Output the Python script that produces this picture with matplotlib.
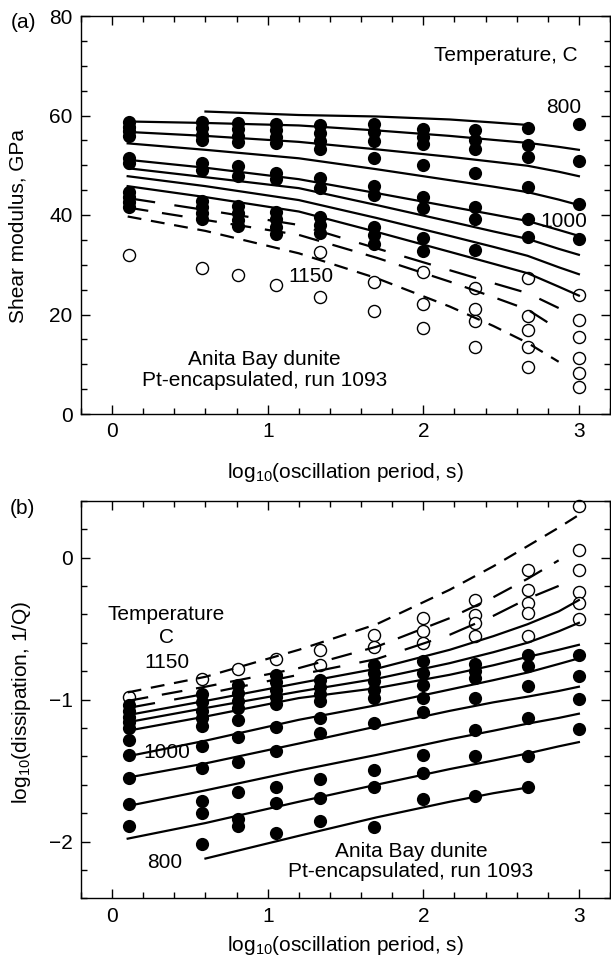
import numpy as np
import matplotlib.pyplot as plt
from matplotlib.ticker import MultipleLocator

plt.rcParams['font.family'] = ['Liberation Sans', 'DejaVu Sans']
plt.rcParams['font.size'] = 15
plt.rcParams['mathtext.default'] = 'regular'
plt.rcParams['lines.scale_dashes'] = False

# log10 of the forced-oscillation periods (s)
LOGP = [0.107, 0.58, 0.806, 1.053, 1.336, 1.68, 2.0, 2.33, 2.67, 3.0]

# temperatures (C) of the model curves, coolest first
TEMPS = [800, 850, 900, 950, 1000, 1025, 1050, 1075, 1100, 1125, 1150]

# the hottest curves are dashed (on, off in points)
DASHED = {1100: (20, 14), 1125: (15, 10), 1150: (10, 7)}

# x positions where the model curves are tabulated
FIT_X = [0.1, 0.6, 1.2, 1.7, 2.17, 2.45, 2.67, 2.87, 3.0]
nan = np.nan

# (a) shear modulus, GPa
modulus_fit = [
    [nan, 60.8, 60.1, 59.8, 59.2, 58.6, 58.1, nan, nan],
    [58.8, 58.5, 58.0, 57.0, 55.9, 55.1, 54.5, 53.7, 53.1],
    [56.7, 55.9, 54.7, 53.2, 51.7, 50.7, 49.9, 48.7, 47.8],
    [54.4, 53.1, 51.4, 49.2, 47.0, 45.7, 44.6, 43.1, 42.0],
    [51.1, 49.5, 47.2, 44.4, 41.7, 40.1, 38.8, 37.0, 35.8],
    [49.4, 47.6, 45.4, 42.0, 38.7, 36.7, 35.2, 33.2, 32.0],
    [47.8, 45.8, 43.0, 39.4, 35.8, 33.6, 31.8, 29.5, 28.1],
    [45.8, 43.6, 40.7, 36.6, 32.6, 30.2, 28.3, 25.6, 23.8],
    [43.4, 41.0, 38.0, 33.3, 28.9, 26.3, 24.3, 21.3, nan],
    [41.5, 39.0, 36.0, 31.4, 26.6, 23.5, 21.0, 17.0, nan],
    [39.7, 36.8, 32.3, 27.3, 21.6, 17.7, 14.3, 10.5, nan],
]
modulus_solid = [
    [58.7, 57.7, 56.8, 55.9, 51.5, 50.5, 44.7, 43.7, 42.7, 41.7],
    [58.6, 57.4, 56.1, 55.0, 50.5, 49.0, 42.8, 41.6, 40.4, 39.2],
    [58.5, 57.2, 55.9, 54.6, 49.9, 47.9, 41.8, 40.4, 39.0, 37.7],
    [58.3, 57.0, 55.7, 54.4, 48.5, 47.2, 40.6, 39.1, 37.6, 36.1],
    [58.0, 56.4, 54.8, 53.2, 47.5, 45.5, 39.6, 38.0, 36.4],
    [58.3, 56.6, 54.9, 51.4, 45.8, 44.0, 37.6, 35.9, 34.2],
    [57.2, 55.7, 54.2, 50.0, 43.6, 41.4, 35.4, 32.7],
    [57.0, 55.1, 53.2, 48.4, 41.6, 39.2, 33.0],
    [57.4, 54.1, 51.7, 45.7, 39.1, 35.6],
    [58.3, 50.9, 42.3, 35.1],
]
modulus_open = [
    [32.0],
    [29.4],
    [27.9],
    [25.9],
    [32.6, 23.6],
    [26.6, 20.8],
    [28.6, 22.1, 17.2],
    [25.3, 21.2, 18.6, 13.5],
    [27.3, 19.7, 16.9, 13.5, 9.5],
    [23.9, 18.9, 15.4, 11.2, 8.3, 5.4],
]

# (b) log10 dissipation
dissip_fit = [
    [nan, -2.12, -1.96, -1.83, -1.72, -1.66, -1.62, nan, nan],
    [-1.98, -1.87, -1.72, -1.60, -1.49, -1.43, -1.38, -1.33, -1.30],
    [-1.75, -1.64, -1.50, -1.39, -1.28, -1.22, -1.17, -1.13, -1.10],
    [-1.55, -1.45, -1.31, -1.19, -1.08, -1.02, -0.98, -0.94, -0.91],
    [-1.40, -1.29, -1.143, -1.04, -0.93, -0.864, -0.81, -0.75, -0.71],
    [-1.22, -1.12, -0.99, -0.92, -0.826, -0.759, -0.70, -0.65, -0.615],
    [-1.16, -1.06, -0.944, -0.854, -0.744, -0.667, -0.60, -0.52, -0.46],
    [-1.11, -1.01, -0.885, -0.783, -0.65, -0.554, -0.47, -0.38, -0.30],
    [-1.06, -0.96, -0.826, -0.715, -0.544, -0.411, -0.29, -0.20, nan],
    [-1.01, -0.91, -0.779, -0.628, -0.427, -0.28, -0.15, -0.02, nan],
    [-0.95, -0.84, -0.65, -0.47, -0.227, -0.062, 0.08, 0.21, 0.30],
]
dissip_solid = [
    [-1.04, -1.08, -1.12, -1.16, -1.20, -1.284, -1.39, -1.553, -1.736, -1.888],
    [-0.96, -1.02, -1.08, -1.13, -1.19, -1.325, -1.483, -1.712, -1.80, -2.017],
    [-0.90, -0.955, -1.01, -1.06, -1.143, -1.266, -1.437, -1.648, -1.84, -1.89],
    [-0.83, -0.88, -0.93, -0.98, -1.03, -1.195, -1.366, -1.613, -1.73, -1.941],
    [-0.86, -0.91, -0.96, -1.01, -1.131, -1.237, -1.561, -1.695, -1.859],
    [-0.76, -0.81, -0.87, -0.93, -0.99, -1.162, -1.495, -1.617, -1.899],
    [-0.73, -0.815, -0.90, -0.99, -1.085, -1.39, -1.519, -1.701],
    [-0.75, -0.80, -0.85, -0.99, -1.218, -1.40, -1.683],
    [-0.685, -0.767, -0.902, -1.133, -1.396, -1.613],
    [-0.688, -0.838, -0.998, -1.205],
]
dissip_open = [
    [-0.98],
    [-0.855],
    [-0.786],
    [-0.716],
    [-0.65, -0.756],
    [-0.544, -0.627],
    [-0.427, -0.521, -0.603],
    [-0.298, -0.404, -0.462, -0.551],
    [-0.087, -0.23, -0.318, -0.394, -0.553],
    [0.365, 0.052, -0.09, -0.245, -0.318, -0.43],
]


def draw_panel(ax, fits, solid, hollow):
    for t, vals in zip(TEMPS, fits):
        kw = {'dashes': DASHED[t]} if t in DASHED else {}
        ax.plot(FIT_X, vals, color='k', lw=1.6, zorder=3, **kw)
    for x, col in zip(LOGP, solid):
        ax.plot([x] * len(col), col, 'o', ms=9.5, mfc='k', mec='k', mew=0,
                zorder=4, clip_on=False)
    for x, col in zip(LOGP, hollow):
        ax.plot([x] * len(col), col, 'o', ms=8.7, mfc='white', mec='k', mew=1.0,
                zorder=2, clip_on=False)

    ax.set_xlim(-0.2, 3.2)
    ax.xaxis.set_major_locator(MultipleLocator(1))
    ax.xaxis.set_minor_locator(MultipleLocator(0.2))
    ax.tick_params(which='both', direction='in', top=True, right=True, width=1)
    ax.tick_params(which='major', length=6.5, pad=6)
    ax.tick_params(which='minor', length=4)
    for s in ax.spines.values():
        s.set_linewidth(1.0)
    ax.set_xlabel('log$_{10}$(oscillation period, s)')


fig = plt.figure(figsize=(6.11, 9.66), dpi=100)
ax_a = fig.add_axes([81 / 611, 1 - 414 / 966, 529 / 611, 398 / 966])
ax_b = fig.add_axes([81 / 611, 1 - 898.3 / 966, 529 / 611, 397.6 / 966])

# (a) shear modulus
draw_panel(ax_a, modulus_fit, modulus_solid, modulus_open)
ax_a.set_ylim(0, 80)
ax_a.yaxis.set_major_locator(MultipleLocator(20))
ax_a.yaxis.set_minor_locator(MultipleLocator(5))
ax_a.set_ylabel('Shear modulus, GPa')
ax_a.yaxis.set_label_coords(-0.102, 0.473)
ax_a.xaxis.set_label_coords(0.5, -0.118)
ax_a.text(2.99, 72, 'Temperature, C', ha='right', va='center')
ax_a.text(2.9, 61.6, '800', ha='center', va='center')
ax_a.text(2.9, 38.7, '1000', ha='center', va='center')
ax_a.text(1.28, 27.6, '1150', ha='center', va='center')
ax_a.text(0.98, 11.0, 'Anita Bay dunite', ha='center', va='center')
ax_a.text(0.98, 6.7, 'Pt-encapsulated, run 1093', ha='center', va='center')

# (b) dissipation
draw_panel(ax_b, dissip_fit, dissip_solid, dissip_open)
ax_b.set_ylim(-2.4, 0.4)
ax_b.yaxis.set_major_locator(MultipleLocator(1))
ax_b.yaxis.set_minor_locator(MultipleLocator(0.2))
ax_b.set_ylabel('log$_{10}$(dissipation, 1/Q)')
ax_b.yaxis.set_label_coords(-0.091, 0.494)
ax_b.xaxis.set_label_coords(0.5, -0.09)
ax_b.text(0.35, -0.40, 'Temperature', ha='center', va='center')
ax_b.text(0.35, -0.566, 'C', ha='center', va='center')
ax_b.text(0.35, -0.74, '1150', ha='center', va='center')
ax_b.text(0.35, -1.37, '1000', ha='center', va='center', zorder=1)
ax_b.text(0.34, -2.15, '800', ha='center', va='center')
ax_b.text(1.92, -2.07, 'Anita Bay dunite', ha='center', va='center')
ax_b.text(1.92, -2.21, 'Pt-encapsulated, run 1093', ha='center', va='center')

fig.text(23 / 611, 1 - 22 / 966, '(a)', ha='center', va='center')
fig.text(22 / 611, 1 - 509 / 966, '(b)', ha='center', va='center')

fig.savefig('out.png', dpi=100)
